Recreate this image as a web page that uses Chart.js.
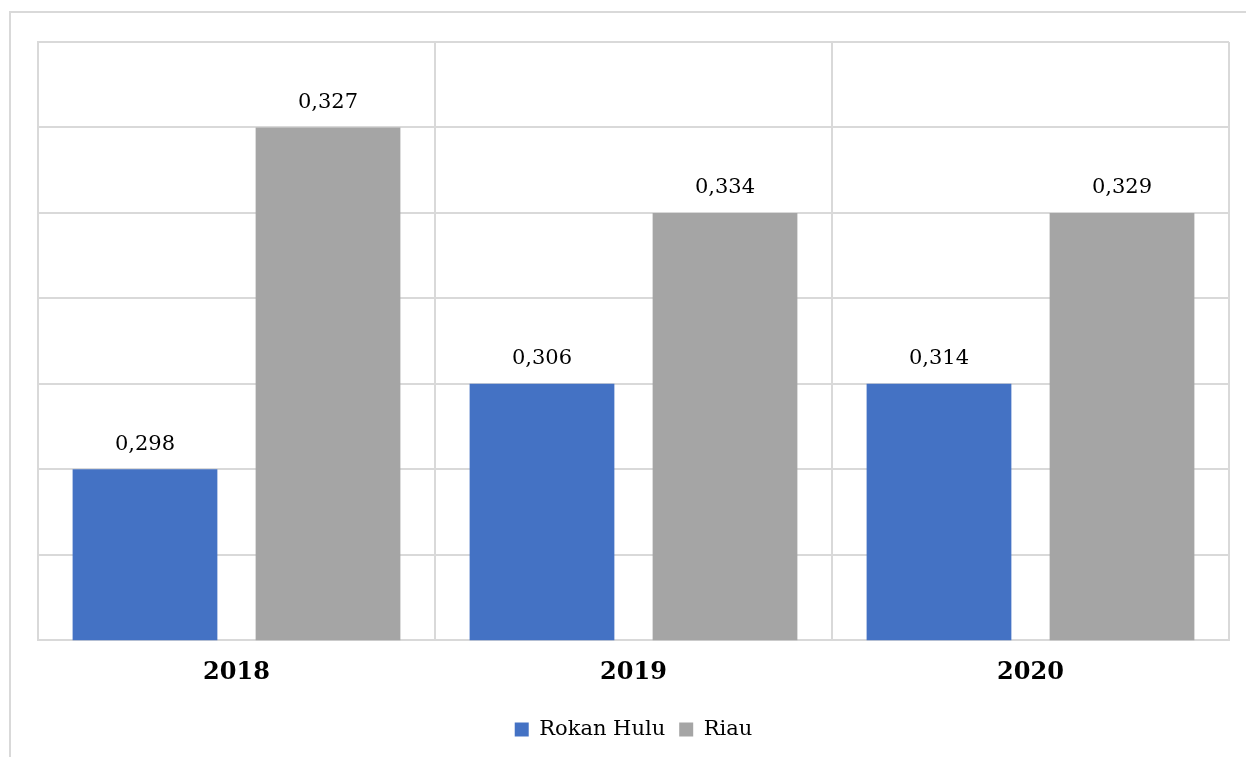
<!DOCTYPE html>
<html>
<head>
<meta charset="utf-8">
<script src="https://cdn.jsdelivr.net/npm/chart.js@4/dist/chart.umd.min.js"></script>
<style>
  body { margin: 0; background: #fff; }
  #wrap { position: relative; width: 1246px; height: 757px; overflow: hidden; }
  #frame { position: absolute; left: 9px; top: 11px; width: 1300px; height: 800px;
           border-left: 2px solid #d9d9d9; border-top: 2px solid #d9d9d9; }
  canvas { position: absolute; left: 0; top: 0; }
</style>
</head>
<body>
<div id="wrap">
  <div id="frame"></div>
  <canvas id="chart" width="1246" height="757"></canvas>
</div>
<script>
// categories
var years = ["2018", "2019", "2020"]

// bar heights as drawn against the (hidden) value axis
var rokanHulu = [0.30, 0.31, 0.31]
var riau = [0.34, 0.33, 0.33]

// labels printed above the bars
var rokanHuluLabels = ["0,298", "0,306", "0,314"]
var riauLabels = ["0,327", "0,334", "0,329"]

var serif = "'DejaVu Serif', 'Liberation Serif', serif"

// draws the printed value above each bar
var barLabels = {
  id: "barLabels",
  afterDatasetsDraw(chart) {
    let ctx = chart.ctx
    ctx.save()
    ctx.font = "21px " + serif
    ctx.fillStyle = "#000"
    ctx.textAlign = "center"
    ctx.textBaseline = "middle"
    chart.data.datasets.forEach((ds, i) => {
      let meta = chart.getDatasetMeta(i)
      meta.data.forEach((bar, j) => {
        ctx.fillText(ds.printed[j], bar.x, bar.y - 25)
      })
    })
    ctx.restore()
  }
}

new Chart("chart", {
  type: "bar",
  data: {
    labels: years,
    datasets: [{
      label: "Rokan Hulu",
      backgroundColor: "#4472c4",
      data: rokanHulu,
      printed: rokanHuluLabels
    }, {
      label: "Riau",
      backgroundColor: "#a5a5a5",
      data: riau,
      printed: riauLabels
    }]
  },
  options: {
    responsive: false,
    animation: false,
    datasets: {
      bar: { categoryPercentage: 0.922, barPercentage: 0.791 }
    },
    layout: {
      padding: { left: 38, right: 17, top: 42, bottom: 7 }
    },
    scales: {
      x: {
        grid: { color: "#d9d9d9", lineWidth: 2, drawTicks: false },
        border: { color: "#d9d9d9", width: 2 },
        ticks: {
          color: "#000",
          padding: 18,
          font: { family: serif, size: 24, weight: "bold" }
        }
      },
      y: {
        min: 0.28,
        max: 0.35,
        ticks: { display: false, stepSize: 0.01 },
        grid: { color: "#d9d9d9", lineWidth: 2, drawTicks: false },
        border: { color: "#d9d9d9", width: 2 }
      }
    },
    plugins: {
      tooltip: { enabled: false },
      legend: {
        position: "bottom",
        labels: {
          color: "#000",
          boxWidth: 14,
          boxHeight: 14,
          padding: 14,
          font: { family: serif, size: 21 }
        }
      }
    }
  },
  plugins: [barLabels]
});
</script>
</body>
</html>
